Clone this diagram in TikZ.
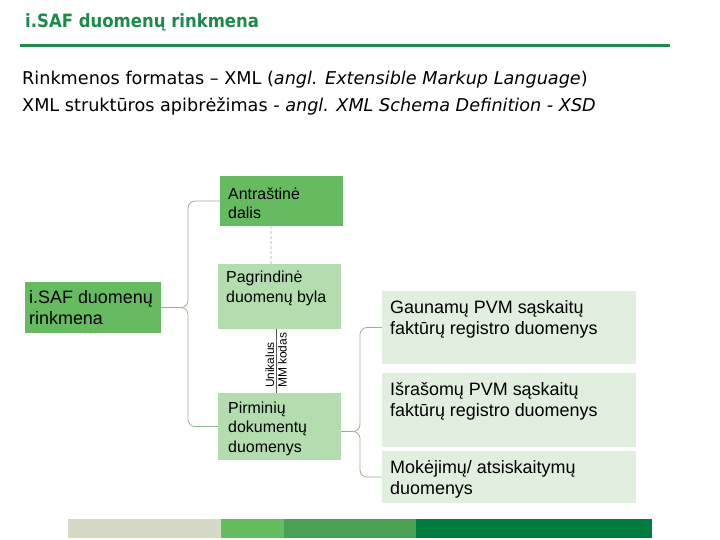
\documentclass[tikz,border=0pt]{standalone}
\usepackage{fontspec}
\setmainfont{Liberation Sans}
\newfontfamily\headfont[FakeStretch=0.9]{DejaVu Sans}
\newfontfamily\introfont{DejaVu Sans}
\definecolor{Title}{HTML}{1B8A4C}
\definecolor{Rule}{HTML}{1D8A4E}
\definecolor{Leaf}{HTML}{66BB60}
\definecolor{Mint}{HTML}{B3DDAE}
\definecolor{Pale}{HTML}{E1EFDE}
\definecolor{Stem}{HTML}{92B48E}
\definecolor{BarA}{HTML}{D6D9C6}
\definecolor{BarB}{HTML}{66BD5F}
\definecolor{BarC}{HTML}{4BA151}
\definecolor{BarD}{HTML}{007C40}

\begin{document}
\begin{tikzpicture}[x=1bp,y=-1bp,
  box/.style={anchor=north west,inner sep=0,outer sep=0},
  % base west of a multi-line node sits on its last line
  boxtext/.style={anchor=base west,inner sep=0,align=left,
   font=\fontsize{16}{19.5}\selectfont},
  bigtext/.style={boxtext,font=\fontsize{18}{21}\selectfont},
  brace/.style={draw=Stem,line width=.8pt,rounded corners=7bp},
  idline/.style={draw=black!65,line width=.7pt},
  idlabel/.style={rotate=90,inner sep=1.5bp,font=\fontsize{12}{14}\selectfont}]
  \useasboundingbox (0,0) rectangle (720,540);
  % header
  \node[anchor=base west,inner sep=0,text=Title,
    font=\headfont\bfseries\fontsize{18.4}{21}\selectfont] (title) at (25,28) {i.SAF duomenų rinkmena};
  \draw[Rule,line width=3bp] (20,46) -- (670,46);
  \node[anchor=base west,inner sep=0,align=left,
    font=\introfont\fontsize{17.7}{28}\selectfont] (intro) at (22,112)
    {Rinkmenos formatas – XML (\textit{angl. Extensible Markup Language})\\
     XML struktūros apibrėžimas - \textit{angl. XML Schema Definition - XSD}};
  % boxes
  \node[box,fill=Leaf,minimum width=136bp,minimum height=51bp] (isaf) at (25,282) {};
  \node[box,fill=Leaf,minimum width=123bp,minimum height=50bp] (ant) at (220,176) {};
  \node[box,fill=Mint,minimum width=123bp,minimum height=65bp] (pag) at (218,264) {};
  \node[box,fill=Mint,minimum width=123bp,minimum height=67bp] (pir) at (218,393) {};
  \node[box,fill=Pale,minimum width=254bp,minimum height=73bp] (gau) at (382,291) {};
  \node[box,fill=Pale,minimum width=254bp,minimum height=74bp] (isr) at (382,373) {};
  \node[box,fill=Pale,minimum width=254bp,minimum height=52bp] (mok) at (382,451) {};
  \node[bigtext] (isaftxt) at (29,324) {i.SAF duomenų\\rinkmena};
  \node[boxtext] (anttxt) at (228,219) {Antraštinė\\dalis};
  \node[boxtext] (pagtxt) at (226,302) {Pagrindinė\\duomenų byla};
  \node[boxtext] (pirtxt) at (228,452) {Pirminių\\dokumentų\\duomenys};
  \node[bigtext] (gautxt) at (390,334) {Gaunamų PVM sąskaitų\\faktūrų registro duomenys};
  \node[bigtext] (isrtxt) at (390,416) {Išrašomų PVM sąskaitų\\faktūrų registro duomenys};
  \node[bigtext] (moktxt) at (390,494) {Mokėjimų/ atsiskaitymų\\duomenys};
  % connectors
  \draw[brace] (isaf.east) -- ++(27,0) |- (ant.west);
  \draw[brace] (isaf.east) -- ++(27,0) |- (pir.west);
  \draw[brace] ([yshift=-5bp]pir.east) -- ++(19,0) |- (gau.west);
  \draw[brace] ([yshift=-5bp]pir.east) -- ++(19,0) |- (mok.west);
  \draw[Stem,line width=.8pt,dash pattern=on 3bp off 2bp]
    ([xshift=-10.5bp]ant.south) -- ([xshift=-8.5bp]pag.north);
  \draw[idline] ([xshift=-3.5bp]pag.south) -- ([xshift=-3.5bp]pir.north)
    node[idlabel,pos=.95,anchor=south west] {Unikalus}
    node[idlabel,pos=.95,anchor=north west] {MM kodas};
  % bottom bar
  \fill[BarA] (68,519) rectangle (221,538);
  \fill[BarB] (221,519) rectangle (284,538);
  \fill[BarC] (284,519) rectangle (416,538);
  \fill[BarD] (416,519) rectangle (652,538);
\end{tikzpicture}
\end{document}
